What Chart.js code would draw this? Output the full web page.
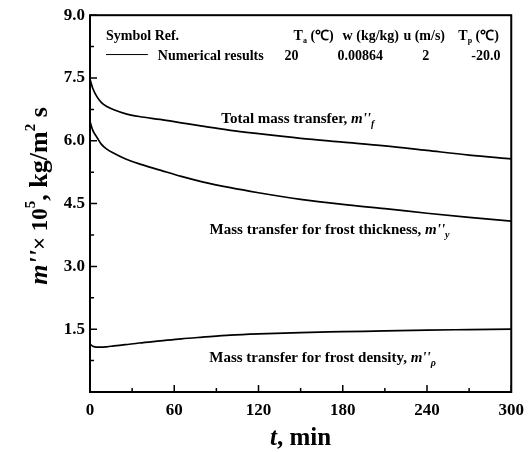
<!DOCTYPE html>
<html lang="en">
<head>
<meta charset="UTF-8" />
<script src="https://cdn.jsdelivr.net/npm/chart.js"></script>
<title>Mass transfer</title>
<style>
  body { margin: 0; background: #fff; }
</style>
</head>
<body>
<canvas id="myChart1" width="532" height="452"></canvas>
<script>
  // tempo (min) e fluxos de massa (x 10^5 kg/m2 s)
  const tempos = [0, 2, 5, 8, 12, 17, 25, 35, 50, 65, 80, 100, 120, 150, 180, 210, 240, 270, 300];
  const total = [7.47, 7.25, 7.05, 6.92, 6.82, 6.74, 6.65, 6.58, 6.51, 6.43, 6.35, 6.25, 6.17, 6.06, 5.97, 5.88, 5.77, 5.66, 5.57];
  const espessura = [6.46, 6.25, 6.08, 5.92, 5.80, 5.70, 5.57, 5.45, 5.30, 5.15, 5.02, 4.88, 4.76, 4.60, 4.48, 4.38, 4.27, 4.17, 4.08];
  const densidade = [1.15, 1.09, 1.07, 1.07, 1.08, 1.10, 1.13, 1.17, 1.22, 1.27, 1.31, 1.36, 1.39, 1.42, 1.44, 1.46, 1.48, 1.49, 1.50];

  const xTicks = [0, 60, 120, 180, 240, 300];
  const yTicks = [0, 1.5, 3.0, 4.5, 6.0, 7.5, 9.0];

  const legendaTitulo = ["Symbol Ref.", "w (kg/kg)", "u (m/s)"];
  const legendaValores = ["Numerical results", "20", "0.00864", "2", "-20.0"];

  const SERIF = "'Liberation Serif', 'Times New Roman', serif";

  function pontos(ys) {
    return tempos.map((t, i) => ({ x: t, y: ys[i] }));
  }

  // desenha texto com partes em italico / sub / sup
  function textoRico(ctx, partes, x, y, align) {
    let w = 0;
    partes.forEach((p) => {
      ctx.font = (p.italic ? "italic " : "") + "bold " + p.size + "px " + SERIF;
      p.w = ctx.measureText(p.t).width;
      w += p.w;
    });
    let cx = align === "center" ? x - w / 2 : x;
    ctx.textAlign = "left";
    ctx.textBaseline = "alphabetic";
    partes.forEach((p) => {
      ctx.font = (p.italic ? "italic " : "") + "bold " + p.size + "px " + SERIF;
      ctx.fillText(p.t, cx, y + (p.dy || 0));
      cx += p.w;
    });
  }

  const moldura = {
    id: "moldura",
    afterDraw(chart) {
      const ctx = chart.ctx;
      const a = chart.chartArea;
      const xs = chart.scales.x;
      const ys = chart.scales.y;
      ctx.save();
      ctx.fillStyle = "#000";
      ctx.strokeStyle = "#000";

      // caixa
      ctx.lineWidth = 2;
      ctx.strokeRect(a.left, a.top, a.right - a.left, a.bottom - a.top);

      // ticks para dentro
      ctx.lineWidth = 1.5;
      ctx.beginPath();
      for (let v = 0; v <= 300; v += 30) {
        const px = xs.getPixelForValue(v);
        const len = v % 60 === 0 ? 7 : 4;
        ctx.moveTo(px, a.bottom);
        ctx.lineTo(px, a.bottom - len);
      }
      for (let v = 0; v <= 9; v += 0.75) {
        const py = ys.getPixelForValue(v);
        const len = Math.abs(v / 1.5 - Math.round(v / 1.5)) < 0.01 ? 7 : 4;
        ctx.moveTo(a.left, py);
        ctx.lineTo(a.left + len, py);
      }
      ctx.stroke();

      // titulo eixo x
      textoRico(ctx, [
        { t: "t", italic: true, size: 25 },
        { t: ", min", size: 25 },
      ], (a.left + a.right) / 2, 445, "center");

      // titulo eixo y
      ctx.save();
      ctx.translate(47, 196);
      ctx.rotate(-Math.PI / 2);
      textoRico(ctx, [
        { t: "m''", italic: true, size: 26 },
        { t: "\u00d7 10", size: 23 },
        { t: "5", size: 15, dy: -12 },
        { t: ", kg/m", size: 26 },
        { t: "2", size: 15, dy: -12 },
        { t: " s", size: 26 },
      ], 0, 0, "center");
      ctx.restore();

      // rotulos das curvas
      const X = (t) => xs.getPixelForValue(t);
      const Y = (v) => ys.getPixelForValue(v);
      textoRico(ctx, [
        { t: "Total mass transfer, ", size: 15 },
        { t: "m''", italic: true, size: 15 },
        { t: "f", italic: true, size: 10, dy: 4 },
      ], X(148), Y(6.43), "center");
      textoRico(ctx, [
        { t: "Mass transfer for frost thickness, ", size: 15 },
        { t: "m''", italic: true, size: 15 },
        { t: "y", italic: true, size: 10, dy: 4 },
      ], X(170.6), Y(3.77), "center");
      textoRico(ctx, [
        { t: "Mass transfer for frost density, ", size: 15 },
        { t: "m''", italic: true, size: 15 },
        { t: "\u03c1", italic: true, size: 10, dy: 4 },
      ], X(165.6), Y(0.71), "center");

      // legenda
      const l1 = Y(8.41), l2 = Y(7.94);
      textoRico(ctx, [{ t: legendaTitulo[0], size: 14 }], X(11.4), l1, "left");
      textoRico(ctx, [
        { t: "T", size: 14 }, { t: "a", size: 8, dy: 3 }, { t: " (\u2103)", size: 14 },
      ], X(145), l1, "left");
      textoRico(ctx, [{ t: legendaTitulo[1], size: 14 }], X(179.9), l1, "left");
      textoRico(ctx, [{ t: legendaTitulo[2], size: 14 }], X(223.2), l1, "left");
      textoRico(ctx, [
        { t: "T", size: 14 }, { t: "p", size: 8, dy: 3 }, { t: " (\u2103)", size: 14 },
      ], X(262.3), l1, "left");

      ctx.lineWidth = 1;
      ctx.beginPath();
      ctx.moveTo(X(11.4), Y(8.06));
      ctx.lineTo(X(41.2), Y(8.06));
      ctx.stroke();
      const posLinha2 = [48.3, 138.6, 176.3, 236.7, 271.6];
      legendaValores.forEach((txt, i) => {
        textoRico(ctx, [{ t: txt, size: 14 }], X(posLinha2[i]), l2, "left");
      });

      ctx.restore();
    },
  };

  const linha = (ys) => ({
    data: pontos(ys),
    borderColor: "#000",
    borderWidth: 1.7,
    pointRadius: 0,
    fill: false,
    cubicInterpolationMode: "monotone",
  });

  new Chart(document.getElementById("myChart1"), {
    type: "line",
    data: {
      datasets: [linha(total), linha(espessura), linha(densidade)],
    },
    options: {
      responsive: false,
      animation: false,
      devicePixelRatio: 1,
      layout: { padding: { top: 10, right: 20, left: 0, bottom: 0 } },
      plugins: { legend: { display: false }, tooltip: { enabled: false } },
      scales: {
        x: {
          type: "linear",
          min: 0,
          max: 300,
          afterBuildTicks: (s) => { s.ticks = xTicks.map((v) => ({ value: v })); },
          afterFit: (s) => { s.height = 60; },
          grid: { display: false, drawTicks: false },
          border: { display: false },
          ticks: {
            padding: 8,
            color: "#000",
            maxRotation: 0,
            font: { family: SERIF, size: 17, weight: "bold" },
          },
        },
        y: {
          min: 0,
          max: 9,
          afterBuildTicks: (s) => { s.ticks = yTicks.map((v) => ({ value: v })); },
          afterFit: (s) => { s.width = 90; },
          grid: { display: false, drawTicks: false },
          border: { display: false },
          ticks: {
            padding: 5,
            color: "#000",
            font: { family: SERIF, size: 17, weight: "bold" },
            callback: (v) => (v === 0 ? "" : Number(v).toFixed(1)),
          },
        },
      },
    },
    plugins: [moldura],
  });
</script>
</body>
</html>
